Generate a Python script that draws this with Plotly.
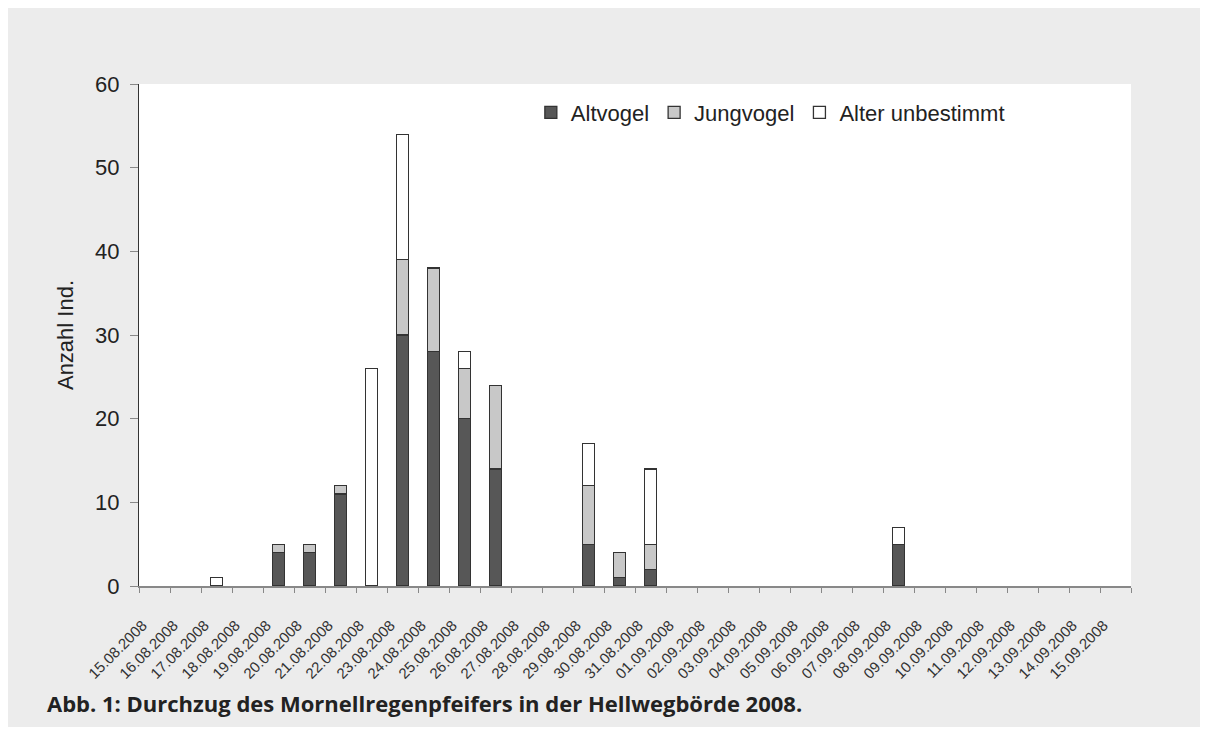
import plotly.graph_objects as go

dates = ["15.08.2008", "16.08.2008", "17.08.2008", "18.08.2008", "19.08.2008", "20.08.2008",
         "21.08.2008", "22.08.2008", "23.08.2008", "24.08.2008", "25.08.2008", "26.08.2008",
         "27.08.2008", "28.08.2008", "29.08.2008", "30.08.2008", "31.08.2008", "01.09.2008",
         "02.09.2008", "03.09.2008", "04.09.2008", "05.09.2008", "06.09.2008", "07.09.2008",
         "08.09.2008", "09.09.2008", "10.09.2008", "11.09.2008", "12.09.2008", "13.09.2008",
         "14.09.2008", "15.09.2008"]

altvogel =   [0, 0, 0, 0, 4, 4, 11, 0, 30, 28, 20, 14, 0, 0, 5, 1, 2, 0, 0, 0, 0, 0, 0, 0, 5, 0, 0, 0, 0, 0, 0, 0]
jungvogel =  [0, 0, 0, 0, 1, 1, 1, 0, 9, 10, 6, 10, 0, 0, 7, 3, 3, 0, 0, 0, 0, 0, 0, 0, 0, 0, 0, 0, 0, 0, 0, 0]
unbestimmt = [0, 0, 1, 0, 0, 0, 0, 26, 15, 0, 2, 0, 0, 0, 5, 0, 9, 0, 0, 0, 0, 0, 0, 0, 2, 0, 0, 0, 0, 0, 0, 0]

series = [("Altvogel", altvogel, "#575757"),
          ("Jungvogel", jungvogel, "#c8c8c8"),
          ("Alter unbestimmt", unbestimmt, "#ffffff")]

fig = go.Figure()
for name, vals, col in series:
    fig.add_trace(go.Bar(
        x=dates, y=[v if v else None for v in vals], name=name, width=0.4,
        marker=dict(color=col, line=dict(color="#333333", width=1.3)),
    ))

# page body has an 8px margin; figure sized to fit the window exactly
W, H = 1192, 719
L, R, T, B = 131, 69, 76, 141

fig.update_layout(
    width=W, height=H,
    barmode="stack",
    paper_bgcolor="#ececec",
    plot_bgcolor="#ffffff",
    margin=dict(l=L, r=R, t=T, b=B),
    font=dict(family="Liberation Sans, Arial, sans-serif", color="#333333"),
    showlegend=True,
    legend=dict(orientation="h", x=0.395, y=0.985, xanchor="left", yanchor="top",
                bgcolor="rgba(0,0,0,0)", font=dict(size=22, color="#222222"),
                traceorder="normal", itemwidth=30),
    xaxis=dict(
        type="category", categoryorder="array", categoryarray=dates,
        tickangle=-45, tickfont=dict(size=15, color="#333333"),
        tickson="boundaries", ticks="outside", ticklen=5, tickcolor="#888888",
        ticklabelstandoff=23, ticklabelshift=-12,
        showline=True, linecolor="#888888", linewidth=1.5,
        showgrid=False, zeroline=False,
    ),
    yaxis=dict(
        range=[0, 60], dtick=10, tickfont=dict(size=22, color="#222222"),
        ticks="outside", ticklen=8, tickcolor="#888888",
        ticklabelstandoff=6,
        showline=True, linecolor="#333333", linewidth=1,
        showgrid=False, zeroline=False,
        title=dict(text="Anzahl Ind.", font=dict(size=22, color="#222222"), standoff=15),
    ),
)

pw = W - L - R
ph = H - T - B
def px_x(p):
    return (p - L) / pw
def px_y(p):
    return (H - B - p) / ph

fig.add_annotation(
    text="<b>Abb. 1: Durchzug des Mornellregenpfeifers in der Hellwegbörde 2008.</b>",
    xref="paper", yref="paper", x=px_x(37), y=px_y(695),
    xanchor="left", yanchor="middle", showarrow=False,
    font=dict(family="Open Sans, sans-serif", size=22, color="#222222"),
)

fig.write_html("out.html")
